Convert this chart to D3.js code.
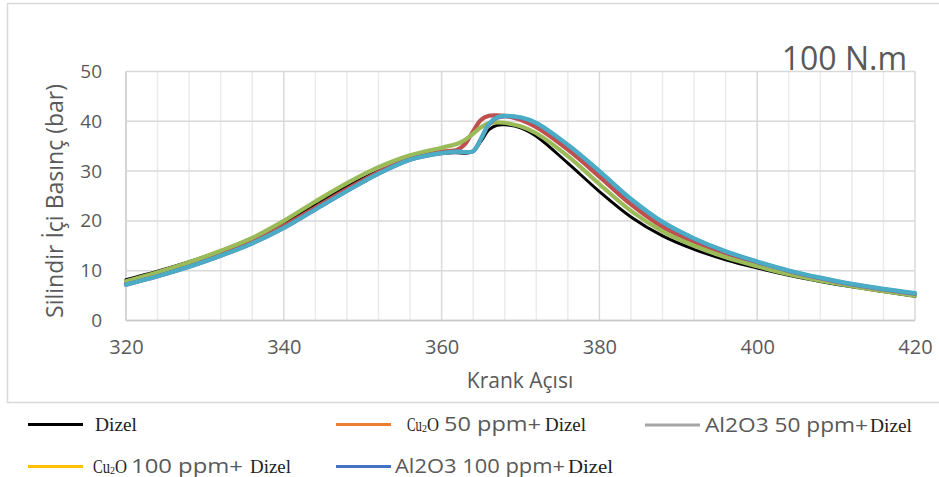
<!DOCTYPE html>
<html>
<head>
<meta charset="utf-8">
<script src="https://cdn.jsdelivr.net/npm/d3@7"></script>
<style>
  html, body { margin: 0; padding: 0; background: #fff; }
  svg { display: block; }
</style>
</head>
<body>
<svg id="chart" width="939" height="477"></svg>
<script>
// Crank angle (degrees)
const angles = [320, 324, 328, 332, 336, 340, 344, 348, 352, 356, 360, 362, 363, 364, 365, 366, 367, 368, 370, 372, 376, 380, 384, 388, 392, 396, 400, 404, 408, 412, 416, 420];

// In-cylinder pressure (bar) per fuel
const dizel     = [8.2, 9.9, 11.8, 14.0, 16.6, 19.7, 23.3, 26.9, 30.0, 32.3, 33.6, 33.7, 33.6, 34.0, 36.0, 38.3, 39.2, 39.3, 38.7, 37.0, 31.6, 25.9, 20.8, 17.0, 14.3, 12.2, 10.55, 9.1, 7.85, 6.75, 5.8, 4.85];
const cu2o50    = [7.5, 9.2, 11.1, 13.3, 15.8, 19.0, 22.7, 26.4, 29.8, 32.6, 33.9, 34.3, 35.5, 38.0, 40.3, 41.1, 41.2, 41.1, 40.3, 38.8, 34.3, 28.9, 23.3, 18.8, 15.7, 13.2, 11.25, 9.65, 8.3, 7.1, 6.1, 5.2];
const al2o3_50  = [7.9, 9.7, 11.7, 14.0, 16.6, 20.0, 23.9, 27.6, 30.8, 33.2, 34.7, 35.5, 36.3, 37.5, 38.8, 39.6, 39.8, 39.7, 39.0, 37.6, 33.0, 27.4, 22.0, 17.9, 15.0, 12.7, 10.9, 9.3, 8.0, 6.9, 5.9, 5.0];
const cu2o100   = [7.2, 8.9, 10.8, 13.0, 15.5, 18.6, 22.3, 26.0, 29.5, 32.3, 33.6, 33.9, 33.8, 34.0, 36.5, 39.4, 40.7, 41.0, 40.7, 39.6, 35.2, 29.9, 24.3, 19.7, 16.4, 13.8, 11.75, 9.95, 8.5, 7.25, 6.25, 5.4];
const al2o3_100 = [7.2, 8.9, 10.8, 13.0, 15.5, 18.6, 22.3, 26.0, 29.5, 32.3, 33.6, 33.9, 33.8, 34.0, 36.5, 39.5, 40.8, 41.1, 40.8, 39.7, 35.3, 30.0, 24.4, 19.8, 16.5, 13.9, 11.85, 10.05, 8.6, 7.35, 6.35, 5.5];

const xTicks = [320, 340, 360, 380, 400, 420];
const yTicks = [0, 10, 20, 30, 40, 50];

const seriesNames = ["Dizel", "Cu2O 50 ppm+ Dizel", "Al2O3 50 ppm+ Dizel", "Cu2O 100 ppm+ Dizel", "Al2O3 100 ppm+ Dizel"];
const seriesValues = [dizel, cu2o50, al2o3_50, cu2o100, al2o3_100];
const plotColors = ["#000000", "#C0504D", "#9BBB59", "#8064A2", "#4BACC6"];
const legendColors = ["#000000", "#ED7D31", "#A5A5A5", "#FFC000", "#4472C4"];

const svg = d3.select("#chart");
const sans = "'Open Sans', sans-serif";
const serif = "'Liberation Serif', 'Times New Roman', serif";
const grey = "#595959";

// chart frame
svg.append("rect")
  .attr("x", 7.5).attr("y", 3.5)
  .attr("width", 940).attr("height", 399)
  .attr("fill", "none").attr("stroke", "#d9d9d9").attr("stroke-width", 1.5);

const plot = { left: 126, right: 915, top: 71.5, bottom: 320.5 };
const x = d3.scaleLinear().domain([320, 420]).range([plot.left, plot.right]);
const y = d3.scaleLinear().domain([0, 50]).range([plot.bottom, plot.top]);

// vertical gridlines: minor every 4°, major every 20°
const vGrid = d3.range(320, 421, 4);
svg.append("g").selectAll("line").data(vGrid).join("line")
  .attr("x1", d => x(d)).attr("x2", d => x(d))
  .attr("y1", plot.top).attr("y2", plot.bottom)
  .attr("stroke", d => (d % 20 === 0 ? "#d9d9d9" : "#ebebeb"))
  .attr("stroke-width", 1.5);

// horizontal gridlines
svg.append("g").selectAll("line").data(yTicks).join("line")
  .attr("x1", plot.left).attr("x2", plot.right)
  .attr("y1", d => y(d)).attr("y2", d => y(d))
  .attr("stroke", "#d9d9d9").attr("stroke-width", 1.5);

// axis lines
svg.append("line").attr("x1", plot.left).attr("x2", plot.left)
  .attr("y1", plot.top).attr("y2", plot.bottom)
  .attr("stroke", "#d0d0d0").attr("stroke-width", 1.5);
svg.append("line").attr("x1", plot.left).attr("x2", plot.right)
  .attr("y1", plot.bottom).attr("y2", plot.bottom)
  .attr("stroke", "#c8c8c8").attr("stroke-width", 1.5);

// y axis
const yAxis = d3.axisLeft(y).tickValues(yTicks).tickSize(0).tickPadding(24);
const gy = svg.append("g").attr("transform", `translate(${plot.left},0)`).call(yAxis);
gy.select(".domain").remove();
gy.selectAll("text").attr("font-family", sans).attr("font-size", 19).attr("fill", grey);

// x axis
const xAxis = d3.axisBottom(x).tickValues(xTicks).tickSize(0).tickPadding(19);
const gx = svg.append("g").attr("transform", `translate(0,${plot.bottom})`).call(xAxis);
gx.select(".domain").remove();
gx.selectAll("text").attr("font-family", sans).attr("font-size", 20).attr("fill", grey);

// axis titles
svg.append("text")
  .attr("transform", "translate(63,201) rotate(-90)")
  .attr("text-anchor", "middle")
  .attr("font-family", sans).attr("font-size", 23).attr("fill", grey)
  .text("Silindir İçi Basınç  (bar)");

svg.append("text")
  .attr("x", 520).attr("y", 388)
  .attr("text-anchor", "middle")
  .attr("font-family", sans).attr("font-size", 21).attr("fill", grey)
  .text("Krank Açısı");

// pressure curves
const line = d3.line()
  .x((d, i) => x(angles[i]))
  .y(d => y(d))
  .curve(d3.curveCatmullRom.alpha(0.5));

svg.append("g").selectAll("path").data(seriesValues).join("path")
  .attr("d", d => line(d))
  .attr("fill", "none")
  .attr("stroke", (d, i) => plotColors[i])
  .attr("stroke-width", (d, i) => (i === 0 ? 3 : 4.2))
  .attr("stroke-linejoin", "round")
  .attr("stroke-linecap", "round");

// load label
svg.append("text")
  .attr("x", 907).attr("y", 70)
  .attr("text-anchor", "end")
  .attr("font-family", sans).attr("font-size", 32).attr("fill", grey)
  .text("100 N.m");

// legend
const legendItems = [
  { i: 0, lx: 28, ly: 424.5, parts: [{ t: "Dizel", f: "serif", x: 95, w: 42 }] },
  { i: 1, lx: 336, ly: 424.5, parts: [
      { t: "Cu", f: "serif", x: 407, w: 15 }, { t: "2", f: "sub", x: 422, w: 5 }, { t: "O", f: "serif", x: 427, w: 12 },
      { t: "50 ppm+", f: "sans", x: 444, w: 97 }, { t: "Dizel", f: "serif", x: 545, w: 41 }] },
  { i: 2, lx: 645, ly: 425, parts: [
      { t: "Al2O3 50 ppm+", f: "sans", x: 705, w: 163 }, { t: "Dizel", f: "serif", x: 870, w: 42 }] },
  { i: 3, lx: 28, ly: 466.5, parts: [
      { t: "Cu", f: "serif", x: 93, w: 17 }, { t: "2", f: "sub", x: 110, w: 5 }, { t: "O", f: "serif", x: 115, w: 12 },
      { t: "100 ppm+", f: "sans", x: 131, w: 112 }, { t: "Dizel", f: "serif", x: 250, w: 41 }] },
  { i: 4, lx: 336, ly: 466.5, parts: [
      { t: "Al2O3 100 ppm+", f: "sans", x: 395, w: 170 }, { t: "Dizel", f: "serif", x: 568, w: 45 }] }
];

const lg = svg.append("g");
legendItems.forEach(item => {
  lg.append("line")
    .attr("x1", item.lx).attr("x2", item.lx + 55)
    .attr("y1", item.ly).attr("y2", item.ly)
    .attr("stroke", legendColors[item.i]).attr("stroke-width", 3);
  item.parts.forEach(p => {
    const base = item.ly + 6.5;
    const t = lg.append("text")
      .attr("x", p.x)
      .attr("textLength", p.w)
      .attr("lengthAdjust", "spacingAndGlyphs")
      .text(p.t);
    if (p.f === "sans") {
      t.attr("y", base).attr("font-family", sans).attr("font-size", 20).attr("fill", grey);
    } else if (p.f === "sub") {
      t.attr("y", base + 1).attr("font-family", serif).attr("font-size", 11).attr("fill", "#222");
    } else {
      t.attr("y", base).attr("font-family", serif).attr("font-size", 18).attr("fill", "#222");
    }
  });
});
</script>
</body>
</html>
